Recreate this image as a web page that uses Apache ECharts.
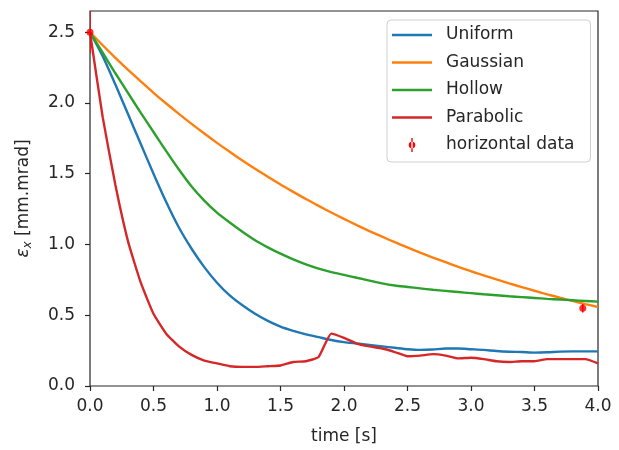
<!DOCTYPE html>
<html>
<head>
<meta charset="utf-8">
<script src="https://cdn.jsdelivr.net/npm/echarts@6/dist/echarts.min.js"></script>
<style>html,body{margin:0;padding:0;background:#fff;}#c{width:619px;height:450px;}</style>
</head>
<body>
<div id="c"></div>
<script>
var time = [0.0,0.1,0.2,0.3,0.4,0.5,0.6,0.7,0.8,0.9,1.0,1.1,1.2,1.3,1.4,1.5,1.6,1.7,1.8,1.9,2.0,
            2.1,2.2,2.3,2.4,2.5,2.6,2.7,2.8,2.9,3.0,3.1,3.2,3.3,3.4,3.5,3.6,3.7,3.8,3.9,4.0];
var uniform = [2.50,2.33,2.13,1.92,1.71,1.50,1.30,1.12,0.97,0.84,0.73,0.64,0.57,0.51,0.46,0.42,0.39,0.365,0.345,0.325,0.31,
               0.30,0.29,0.28,0.27,0.26,0.255,0.258,0.265,0.265,0.26,0.255,0.247,0.242,0.24,0.236,0.238,0.243,0.245,0.245,0.245];
var gaussian = [2.500,2.408,2.319,2.234,2.152,2.072,1.996,1.923,1.852,1.784,1.718,1.655,1.594,1.535,1.479,1.424,1.372,1.321,1.273,1.226,1.181,
                1.137,1.095,1.055,1.016,0.979,0.943,0.908,0.875,0.842,0.811,0.782,0.753,0.725,0.699,0.673,0.648,0.624,0.601,0.579,0.558];
var hollow = [2.50,2.355,2.21,2.07,1.93,1.795,1.66,1.53,1.41,1.31,1.225,1.155,1.09,1.03,0.98,0.935,0.895,0.86,0.83,0.805,0.785,
              0.765,0.745,0.725,0.71,0.70,0.69,0.68,0.672,0.664,0.656,0.648,0.641,0.634,0.628,0.622,0.616,0.611,0.606,0.601,0.596];
var parabolic = [2.50,1.90,1.42,1.02,0.73,0.51,0.37,0.28,0.22,0.18,0.16,0.14,0.135,0.135,0.14,0.145,0.17,0.175,0.205,0.37,0.34,
                 0.30,0.28,0.265,0.24,0.21,0.215,0.225,0.215,0.195,0.20,0.19,0.175,0.17,0.175,0.175,0.19,0.19,0.19,0.19,0.16];
var dataT = [0.0, 3.88];
var dataY = [2.50, 0.55];
var dataErr = [0.15, 0.03];
var xTicks = [0,0.5,1,1.5,2,2.5,3,3.5,4];
var yTicks = [0,0.5,1,1.5,2,2.5];

function pairs(ys){ return time.map(function(t,i){ return [t, ys[i]]; }); }
var FONT = 'DejaVu Sans';
var TXT = '#262626';
var LINE_ICON = 'path://M0,0h40v2.6h-40z';
var chart = echarts.init(document.getElementById('c'), null, {renderer:'canvas'});
function lineSeries(name, ys, color, smooth){
  return {name:name, type:'line', data:pairs(ys), symbol:'none', showSymbol:false, smooth:smooth,
          lineStyle:{color:color, width:2.4}, itemStyle:{color:color}, z:2};
}
chart.setOption({
  animation:false,
  backgroundColor:'#fff',
  grid:{left:90, right:21, top:11, bottom:63, show:true, borderColor:'#262626', borderWidth:1.2, backgroundColor:'transparent'},
  xAxis:{type:'value', min:0, max:4, interval:0.5,
    name:'time [s]', nameLocation:'middle', nameGap:42,
    nameTextStyle:{fontFamily:FONT, fontSize:17, color:TXT},
    axisLine:{show:false}, splitLine:{show:false},
    axisTick:{show:true, length:5, inside:false, customValues:xTicks, lineStyle:{color:'#262626', width:1.2}},
    axisLabel:{fontFamily:FONT, fontSize:17, color:TXT, margin:12, customValues:xTicks, formatter:function(v){return v.toFixed(1);}}
  },
  yAxis:{type:'value', min:0, max:2.65,
    name:'{e|ε}{s|x} [mm.mrad]', nameLocation:'middle', nameGap:56, nameRotate:90,
    nameTextStyle:{fontFamily:FONT, fontSize:17, color:TXT,
      rich:{e:{fontFamily:FONT, fontSize:17, fontStyle:'italic', color:TXT},
            s:{fontFamily:FONT, fontSize:12, fontStyle:'italic', color:TXT, verticalAlign:'top', padding:[9,0,0,0]}}},
    axisLine:{show:false}, splitLine:{show:false},
    axisTick:{show:true, length:5, inside:false, customValues:yTicks, lineStyle:{color:'#262626', width:1.2}},
    axisLabel:{fontFamily:FONT, fontSize:17, color:TXT, margin:15, customValues:yTicks, formatter:function(v){return v.toFixed(1);}}
  },
  legend:{orient:'vertical', left:387, top:20, padding:[6.5,16,8.5,5], itemGap:10.5,
    itemWidth:40, itemHeight:14, symbolKeepAspect:true,
    backgroundColor:'#fff', borderColor:'#d0d0d0', borderWidth:1, borderRadius:4,
    textStyle:{fontFamily:FONT, fontSize:17, color:TXT, lineHeight:17, padding:[0,0,0,9]},
    data:[{name:'Uniform', icon:LINE_ICON},{name:'Gaussian', icon:LINE_ICON},{name:'Hollow', icon:LINE_ICON},{name:'Parabolic', icon:LINE_ICON},
      {name:'horizontal data', icon:'path://M2.75,0h1.5v15h-1.5z M0,7.5a3.5,3.5 0 1,0 7,0a3.5,3.5 0 1,0 -7,0z', itemStyle:{color:'#ff0000'}}]
  },
  series:[
    lineSeries('Uniform', uniform, '#1f77b4', 0.25),
    lineSeries('Gaussian', gaussian, '#ff7f0e', 0.25),
    lineSeries('Hollow', hollow, '#2ca02c', 0.25),
    lineSeries('Parabolic', parabolic, '#d62728', 0.15),
    {name:'horizontal data', type:'custom', clip:true, z:3,
      data:dataT.map(function(t,i){return [t, dataY[i]-dataErr[i], dataY[i]+dataErr[i]];}),
      renderItem:function(params, api){
        var p1 = api.coord([api.value(0), api.value(1)]);
        var p2 = api.coord([api.value(0), api.value(2)]);
        return {type:'line', shape:{x1:p1[0], y1:p1[1], x2:p2[0], y2:p2[1]}, style:{stroke:'#ff0000', lineWidth:1.5}};
      }
    },
    {name:'horizontal data', type:'scatter', z:4, clip:false, symbol:'circle', symbolSize:7,
      itemStyle:{color:'#ff0000'},
      data:dataT.map(function(t,i){return [t, dataY[i]];})}
  ]
});
</script>
</body>
</html>
